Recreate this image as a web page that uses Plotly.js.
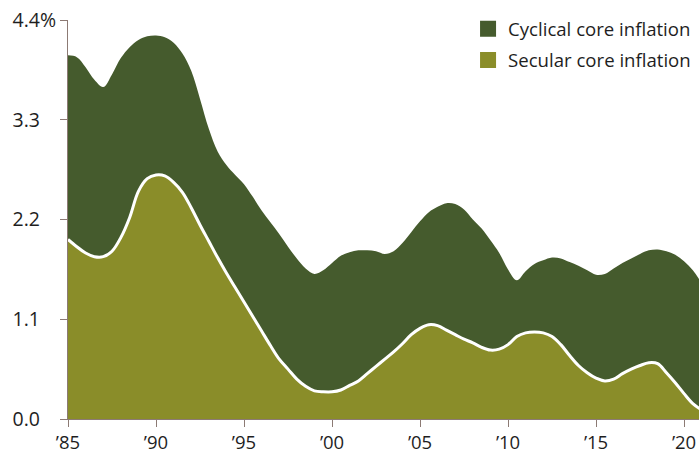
<!DOCTYPE html>
<html>
<head>
<meta charset="utf-8">
<script src="https://cdn.plot.ly/plotly-3.0.1.min.js"></script>
<style>html,body{margin:0;padding:0;background:#fff;}#chart{width:699px;height:455px;}</style>
</head>
<body>
<div id="chart"></div>
<script>
const years = [1985,1985.5,1986,1986.5,1987,1987.5,1988,1988.5,1989,1989.5,
  1990,1990.5,1991,1991.5,1992,1992.5,1993,1993.5,1994,1994.5,
  1995,1995.5,1996,1996.5,1997,1997.5,1998,1998.5,1999,1999.5,
  2000,2000.5,2001,2001.5,2002,2002.5,2003,2003.5,2004,2004.5,
  2005,2005.5,2006,2006.5,2007,2007.5,2008,2008.5,2009,2009.5,
  2010,2010.5,2011,2011.5,2012,2012.5,2013,2013.5,2014,2014.5,
  2015,2015.5,2016,2016.5,2017,2017.5,2018,2018.5,2019,2019.5,
  2020,2020.5,2021];

const secular = [1.98,1.90,1.83,1.79,1.79,1.85,2.00,2.22,2.51,2.65,
  2.69,2.68,2.61,2.50,2.33,2.14,1.96,1.78,1.61,1.45,
  1.29,1.13,0.97,0.81,0.66,0.55,0.44,0.36,0.31,0.30,
  0.30,0.32,0.37,0.42,0.50,0.58,0.66,0.74,0.83,0.93,
  1.00,1.04,1.03,0.98,0.93,0.88,0.84,0.79,0.76,0.77,
  0.82,0.91,0.95,0.96,0.95,0.91,0.82,0.70,0.59,0.51,
  0.45,0.42,0.44,0.50,0.55,0.59,0.62,0.61,0.51,0.40,
  0.28,0.17,0.10];

const cyclical = [2.03,2.09,2.05,1.95,1.87,1.95,1.98,1.88,1.67,1.57,
  1.54,1.53,1.54,1.53,1.51,1.39,1.24,1.17,1.19,1.24,
  1.30,1.32,1.33,1.36,1.38,1.35,1.33,1.30,1.29,1.34,
  1.42,1.48,1.47,1.44,1.36,1.27,1.16,1.11,1.11,1.13,
  1.18,1.24,1.31,1.40,1.44,1.43,1.36,1.31,1.21,1.06,
  0.83,0.62,0.68,0.75,0.80,0.87,0.95,1.03,1.10,1.13,
  1.14,1.18,1.22,1.22,1.22,1.23,1.24,1.26,1.34,1.41,
  1.46,1.47,1.40];

const seriesNames = ['Cyclical core inflation', 'Secular core inflation'];
const xTickVals = [1985,1990,1995,2000,2005,2010,2015,2020];
const xTickText = ['\u201985','\u201990','\u201995','\u201900','\u201905','\u201910','\u201915','\u201920'];
const yTickVals = [0,1.1,2.2,3.3,4.4];
const yTickText = ['0.0','1.1','2.2','3.3','4.4'];

const DARK = '#455b2d';
const OLIVE = '#8a8d29';
const AXIS = '#8c7a74';
const TXT = '#1e1e1e';
const hidePct = '<span style="fill:rgba(0,0,0,0);color:rgba(0,0,0,0)">%</span>';

const yLabels = yTickText.map((t, i) => i === yTickText.length - 1 ? t + '%' : t + hidePct);

const traces = [
  {x: years, y: secular, type: 'scatter', mode: 'lines', stackgroup: 'one',
   fillcolor: OLIVE, line: {color: '#ffffff', width: 3, shape: 'spline', smoothing: 1},
   showlegend: false, hoverinfo: 'skip'},
  {x: years, y: cyclical, type: 'scatter', mode: 'lines', stackgroup: 'one',
   fillcolor: DARK, line: {color: DARK, width: 0, shape: 'spline', smoothing: 1},
   showlegend: false, hoverinfo: 'skip'},
  {x: [null], y: [null], type: 'scatter', mode: 'markers', name: seriesNames[0],
   legendgroup: 'a', marker: {symbol: 'square', size: 16, color: DARK}},
  {x: [null], y: [null], type: 'scatter', mode: 'markers', name: seriesNames[1],
   legendgroup: 'b', marker: {symbol: 'square', size: 16, color: OLIVE}}
];

const layout = {
  width: 699, height: 455,
  margin: {l: 68, r: 0, t: 20, b: 36},
  paper_bgcolor: '#ffffff', plot_bgcolor: '#ffffff',
  font: {family: 'Open Sans, sans-serif', size: 19, color: TXT},
  showlegend: true,
  legend: {x: 0.634, xanchor: 'left', y: 1.0245, yanchor: 'top',
    traceorder: 'grouped', tracegroupgap: 4,
    font: {family: 'Open Sans, sans-serif', size: 18.6, color: TXT},
    bgcolor: 'rgba(0,0,0,0)', itemwidth: 30},
  xaxis: {range: [1985, 2020.85], showgrid: false, zeroline: false,
    showline: true, linecolor: AXIS, linewidth: 1,
    ticks: 'outside', ticklen: 7, tickcolor: AXIS, tickwidth: 1,
    tickmode: 'array', tickvals: xTickVals, ticktext: xTickText,
    tickfont: {size: 18.5, color: TXT}},
  yaxis: {range: [0, 4.4], showgrid: false, zeroline: false,
    showline: true, linecolor: AXIS, linewidth: 1,
    ticks: 'outside', ticklen: 7, tickcolor: AXIS, tickwidth: 1,
    tickmode: 'array', tickvals: yTickVals, ticktext: yLabels,
    tickfont: {size: 19.5, color: TXT}}
};

Plotly.newPlot('chart', traces, layout, {staticPlot: true, displayModeBar: false});
</script>
</body>
</html>
